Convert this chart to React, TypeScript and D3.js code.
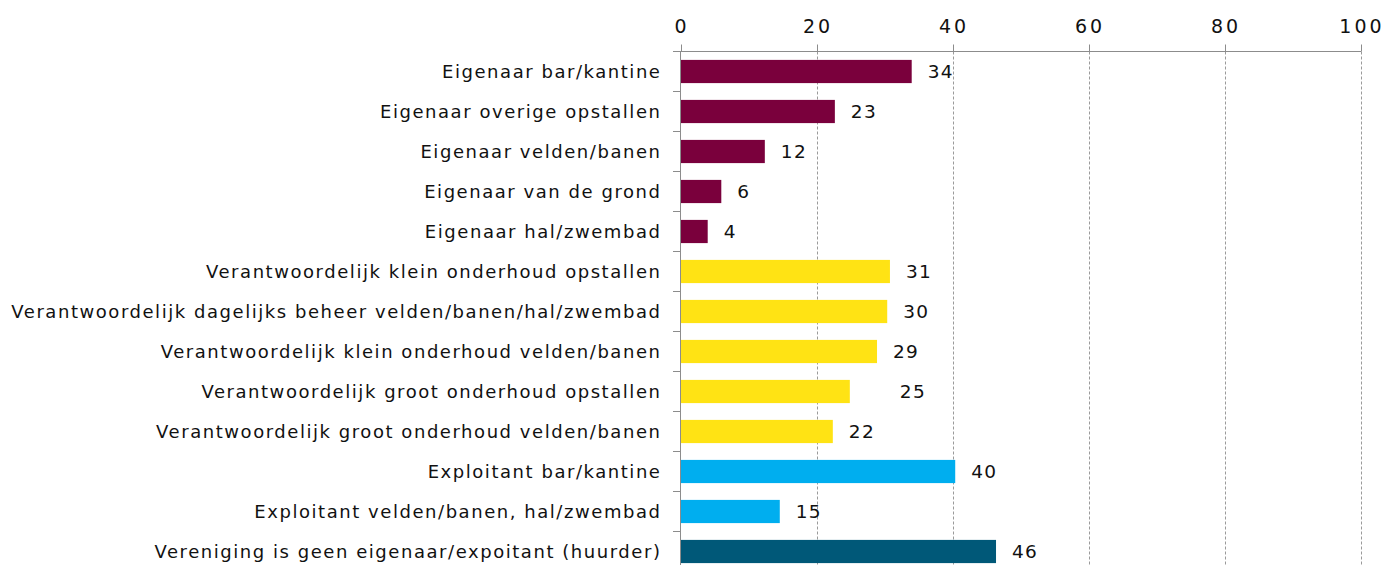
import * as d3 from 'd3';
import React, { useEffect, useRef } from 'react';

const categories = [
  'Eigenaar bar/kantine',
  'Eigenaar overige opstallen',
  'Eigenaar velden/banen',
  'Eigenaar van de grond',
  'Eigenaar hal/zwembad',
  'Verantwoordelijk klein onderhoud opstallen',
  'Verantwoordelijk dagelijks beheer velden/banen/hal/zwembad',
  'Verantwoordelijk klein onderhoud velden/banen',
  'Verantwoordelijk groot onderhoud opstallen',
  'Verantwoordelijk groot onderhoud velden/banen',
  'Exploitant bar/kantine',
  'Exploitant velden/banen, hal/zwembad',
  'Vereniging is geen eigenaar/expoitant (huurder)',
];
const values = [34.0, 22.7, 12.4, 6.0, 4.0, 30.8, 30.4, 28.9, 24.9, 22.4, 40.4, 14.6, 46.4];
const groups = ['eigenaar', 'eigenaar', 'eigenaar', 'eigenaar', 'eigenaar',
  'verantwoordelijk', 'verantwoordelijk', 'verantwoordelijk', 'verantwoordelijk', 'verantwoordelijk',
  'exploitant', 'exploitant', 'huurder'];
const xTicks = [0, 20, 40, 60, 80, 100];

const colors = {
  eigenaar: '#7a003c',
  verantwoordelijk: '#ffe314',
  exploitant: '#00aeef',
  huurder: '#005878',
};

const FONT = '"DejaVu Sans", sans-serif';

function App() {
  const ref = useRef(null);

  useEffect(() => {
    const svg = d3.select(ref.current);
    svg.selectAll('*').remove();

    const x = d3.scaleLinear().domain([0, 100]).range([680.5, 1360.5]);
    const y = d3.scaleBand()
      .domain(categories)
      .range([50.5, 570.5])
      .paddingInner(0.42)
      .paddingOuter(0.21);
    const step = y.step();

    // dashed grid
    svg.append('g')
      .selectAll('line')
      .data(xTicks.slice(1))
      .enter().append('line')
      .attr('x1', d => Math.round(x(d)) + 0.5)
      .attr('x2', d => Math.round(x(d)) + 0.5)
      .attr('y1', 51.5)
      .attr('y2', 570)
      .attr('stroke', '#9a9a9a')
      .attr('stroke-dasharray', '3,2');

    // bars
    svg.append('g')
      .selectAll('rect')
      .data(values)
      .enter().append('rect')
      .attr('x', x(0))
      .attr('y', (d, i) => y(categories[i]) + 1)
      .attr('width', d => x(d) - x(0))
      .attr('height', y.bandwidth())
      .attr('fill', (d, i) => colors[groups[i]]);

    // value labels (the 25 sits further out in the original)
    svg.append('g')
      .selectAll('text')
      .data(values)
      .enter().append('text')
      .attr('x', (d, i) => x(d) + (i === 8 ? 50 : 16))
      .attr('y', (d, i) => y(categories[i]) + 1 + y.bandwidth() / 2)
      .attr('dy', '0.36em')
      .attr('font-family', FONT)
      .attr('font-size', 18.5)
      .attr('letter-spacing', 1.3)
      .attr('fill', '#111')
      .text(d => d3.format('.0f')(d));

    // top axis
    const top = svg.append('g').attr('transform', 'translate(0,51.5)');
    top.append('line')
      .attr('x1', 673).attr('x2', x(100) + 0.5)
      .attr('stroke', '#8c8c8c');
    top.selectAll('.tick')
      .data(xTicks)
      .enter().append('line')
      .attr('x1', d => Math.round(x(d)) + 0.5)
      .attr('x2', d => Math.round(x(d)) + 0.5)
      .attr('y1', -7).attr('y2', 0)
      .attr('stroke', '#8c8c8c');
    top.selectAll('text')
      .data(xTicks)
      .enter().append('text')
      .attr('x', d => x(d) + 1.5)
      .attr('y', -18.5)
      .attr('text-anchor', 'middle')
      .attr('font-family', FONT)
      .attr('font-size', 19)
      .attr('letter-spacing', 3)
      .attr('fill', '#111')
      .text(d => d);

    // left axis
    const left = svg.append('g');
    left.append('line')
      .attr('x1', 680.5).attr('x2', 680.5)
      .attr('y1', 51.5).attr('y2', 570)
      .attr('stroke', '#8c8c8c');
    left.selectAll('.tick')
      .data(d3.range(categories.length + 1))
      .enter().append('line')
      .attr('x1', 673).attr('x2', 680.5)
      .attr('y1', d => Math.round(50.5 + d * step) + 0.5)
      .attr('y2', d => Math.round(50.5 + d * step) + 0.5)
      .attr('stroke', '#8c8c8c');
    left.selectAll('text')
      .data(categories)
      .enter().append('text')
      .attr('x', 661.5)
      .attr('y', d => y(d) + 1 + y.bandwidth() / 2)
      .attr('dy', '0.36em')
      .attr('text-anchor', 'end')
      .attr('font-family', FONT)
      .attr('font-size', 18)
      .attr('letter-spacing', 1.55)
      .attr('fill', '#111')
      .text(d => d);
  }, []);

  return (
    <svg ref={ref} width={1384} height={565}
      style={{ position: 'absolute', left: 0, top: 0, background: '#fff' }} />
  );
}

export default App;
